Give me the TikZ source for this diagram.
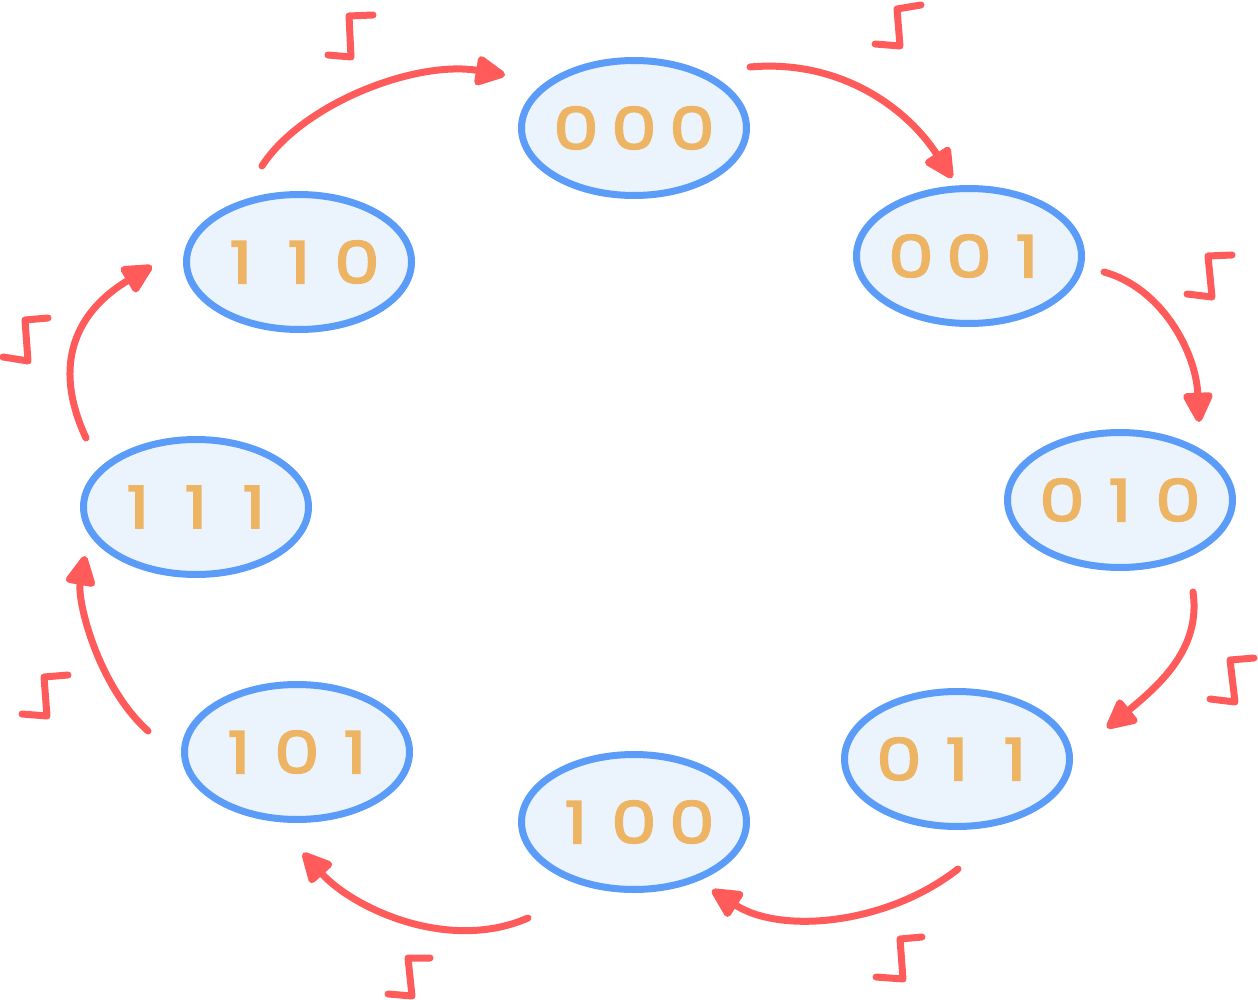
\documentclass[tikz,border=0pt]{standalone}
\usepackage{fontspec}
\newfontfamily\digfont{Poppins}[FakeBold=3,FakeStretch=1.25]
\usetikzlibrary{shapes.geometric,arrows.meta}
\definecolor{sblue}{HTML}{5B9CF8}
\definecolor{sfill}{HTML}{EBF3FD}
\definecolor{sorange}{HTML}{EDB563}
\definecolor{sred}{HTML}{FF5B5B}
\newcommand{\dgbox}[1]{\makebox[58pt][c]{#1}}
\newcommand{\bitstr}[3]{\makebox[0pt][c]{\dgbox{#1}\dgbox{#2}\dgbox{#3}}}
\begin{document}
\begin{tikzpicture}[x=1pt,y=-1pt,
  state/.style={ellipse,draw=sblue,fill=sfill,line width=7pt,
    minimum width=225pt,minimum height=135pt,inner sep=0pt,
    text=sorange,font=\digfont\fontsize{58}{58}\selectfont},
  trans/.style={draw=sred,line width=7pt,line cap=round,
    -{Triangle[length=34pt,width=32pt,round]}},
  clk/.style={draw=sred,line width=7pt,line cap=round,line join=round}]
\useasboundingbox (0,0) rectangle (1258,1000);

\node[state] (A) at (634,128) {\bitstr000};
\node[state] (B) at (969,256) {\bitstr001};
\node[state] (C) at (1120,500) {\bitstr010};
\node[state] (D) at (957,759) {\bitstr011};
\node[state] (E) at (634,822) {\bitstr100};
\node[state] (F) at (297,752) {\bitstr101};
\node[state] (G) at (196,507) {\bitstr111};
\node[state] (H) at (299,262) {\bitstr110};

\draw[trans] ([shift={(-37,-96)}]H.center) .. controls +(40,-62) and +(-90,-15) .. ([shift={(-129,-53)}]A.center);
\draw[trans] ([shift={(116,-61)}]A.center) .. controls +(90,-8) and +(-45,-70) .. ([shift={(-17,-78)}]B.center);
\draw[trans] ([shift={(135,16)}]B.center) .. controls +(58,16) and +(-3,-70) .. ([shift={(79,-78)}]C.center);
\draw[trans] ([shift={(73,92)}]C.center) .. controls +(8,55) and +(55,-45) .. ([shift={(150,-31)}]D.center);
\draw[trans] ([shift={(1,110)}]D.center) .. controls +(-70,55) and +(70,45) .. ([shift={(78,68)}]E.center);
\draw[trans] ([shift={(-106,96)}]E.center) .. controls +(-80,35) and +(50,55) .. ([shift={(6,101)}]F.center);
\draw[trans] ([shift={(-149,-21)}]F.center) .. controls +(-50,-45) and +(-8,45) .. ([shift={(-111,49)}]G.center);
\draw[trans] ([shift={(-110,-69)}]G.center) .. controls +(-35,-75) and +(-75,45) .. ([shift={(-147,4)}]H.center);

\draw[clk] (328,55) -- (351,57) -- (349,16) -- (373,15);
\draw[clk] (875,44) -- (900,46) -- (897,9) -- (921,5);
\draw[clk] (1187,294) -- (1212,297) -- (1208,256) -- (1232,255);
\draw[clk] (1210,699) -- (1235,702) -- (1230,660) -- (1254,658);
\draw[clk] (876,977) -- (903,979) -- (900,939) -- (922,937);
\draw[clk] (388,994) -- (412,996) -- (408,958) -- (430,958);
\draw[clk] (22,714) -- (47,716) -- (44,677) -- (68,675);
\draw[clk] (3,357) -- (28,361) -- (25,320) -- (48,318);
\end{tikzpicture}
\end{document}
